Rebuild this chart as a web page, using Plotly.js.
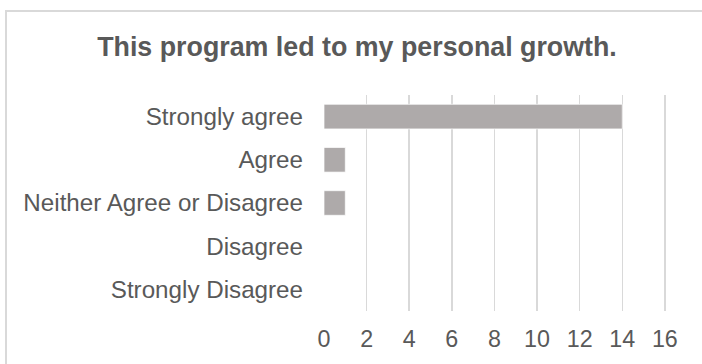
<!DOCTYPE html>
<html>
<head>
<meta charset="utf-8">
<script src="https://cdn.plot.ly/plotly-3.0.1.min.js"></script>
<style>
  html, body { margin: 0; padding: 0; background: #ffffff; }
  #chart { width: 702px; height: 364px; }
</style>
</head>
<body>
<div id="chart"></div>
<script>
const categories = ["Strongly agree", "Agree", "Neither Agree or Disagree", "Disagree", "Strongly Disagree"];
const counts = [14, 1, 1, 0, 0];
const tickValues = [0, 2, 4, 6, 8, 10, 12, 14, 16];
const tickLabels = ["0", "2", "4", "6", "8", "10", "12", "14", "16"];
const titleText = "This program led to my personal growth.";

const L = 324, R = 35, T = 95, B = 53, W = 702, H = 364;
const pw = W - L - R, ph = H - T - B;
const px = v => (v - L) / pw;
const py = v => (H - B - v) / ph;

const trace = {
  type: "bar",
  orientation: "h",
  y: categories,
  x: counts,
  marker: { color: "#AEAAAA", line: { color: "rgba(255,255,255,0.7)", width: 1 } },
  hoverinfo: "x+y"
};

const layout = {
  width: W, height: H,
  margin: { l: L, r: R, t: T, b: B, pad: 0 },
  paper_bgcolor: "#ffffff",
  plot_bgcolor: "#ffffff",
  showlegend: false,
  bargap: 0.43,
  font: { family: "Liberation Sans, Arial, sans-serif", color: "#595959" },
  title: {
    text: "<b>" + titleText + "</b>",
    font: { size: 26.8, color: "#595959", family: "Liberation Sans, Arial, sans-serif" },
    xref: "container", yref: "container",
    x: 357 / W, xanchor: "center",
    y: 1 - 47 / H, yanchor: "middle"
  },
  xaxis: {
    range: [0, 16.1],
    tickvals: tickValues,
    ticktext: tickLabels,
    showgrid: true,
    gridcolor: "#D9D9D9",
    gridwidth: 1.5,
    zeroline: false,
    showline: false,
    ticks: "",
    tickfont: { size: 23.3, color: "#595959" },
    ticklabelstandoff: 12,
    fixedrange: true
  },
  yaxis: {
    type: "category",
    categoryorder: "array",
    categoryarray: categories,
    autorange: "reversed",
    showgrid: false,
    zeroline: false,
    showline: false,
    ticks: "",
    tickfont: { size: 24.2, color: "#595959" },
    ticklabelstandoff: 20,
    fixedrange: true
  },
  shapes: [{
    type: "rect",
    xref: "paper", yref: "paper",
    x0: px(6), x1: px(720),
    y0: py(380), y1: py(11),
    line: { color: "#D9D9D9", width: 2 },
    fillcolor: "rgba(0,0,0,0)",
    layer: "below"
  }]
};

Plotly.newPlot("chart", [trace], layout, { displayModeBar: false, staticPlot: true });
</script>
</body>
</html>
